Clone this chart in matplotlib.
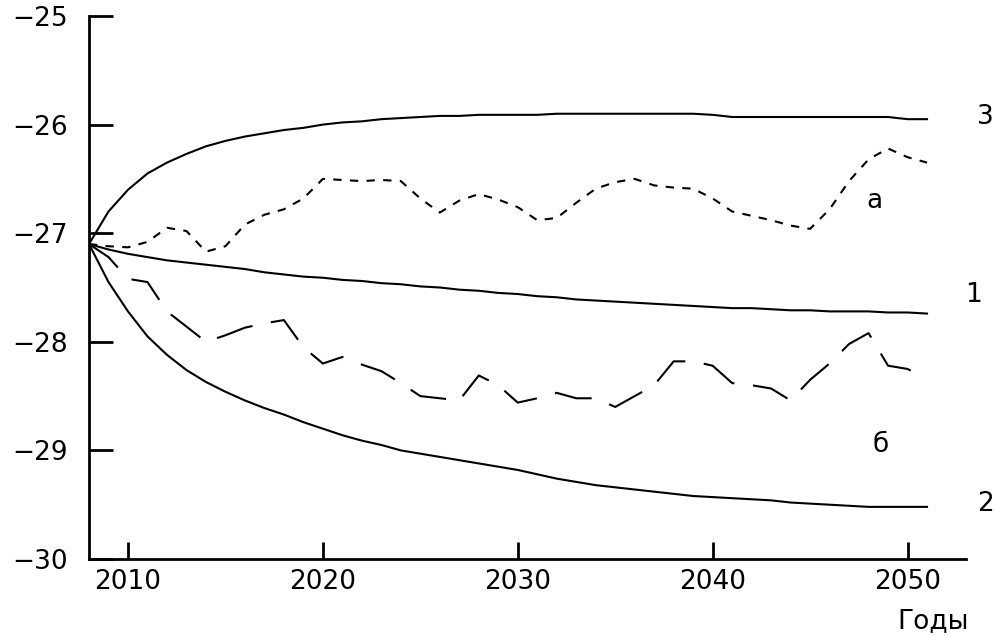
import numpy as np
import matplotlib
matplotlib.use("Agg")
import matplotlib.pyplot as plt

years = np.arange(2008, 2052)

# curve 3 (upper solid)
curve_3 = [-27.10, -26.80, -26.60, -26.45, -26.35, -26.27, -26.20, -26.15, -26.11, -26.08,
           -26.05, -26.03, -26.00, -25.98, -25.97, -25.95, -25.94, -25.93, -25.92, -25.92,
           -25.91, -25.91, -25.91, -25.91, -25.90, -25.90, -25.90, -25.90, -25.90, -25.90,
           -25.90, -25.90, -25.91, -25.93, -25.93, -25.93, -25.93, -25.93, -25.93, -25.93,
           -25.93, -25.93, -25.95, -25.95]

# curve 1 (middle solid)
curve_1 = [-27.10, -27.15, -27.19, -27.22, -27.25, -27.27, -27.29, -27.31, -27.33, -27.36,
           -27.38, -27.40, -27.41, -27.43, -27.44, -27.46, -27.47, -27.49, -27.50, -27.52,
           -27.53, -27.55, -27.56, -27.58, -27.59, -27.61, -27.62, -27.63, -27.64, -27.65,
           -27.66, -27.67, -27.68, -27.69, -27.69, -27.70, -27.71, -27.71, -27.72, -27.72,
           -27.72, -27.73, -27.73, -27.74]

# curve 2 (lower solid)
curve_2 = [-27.10, -27.45, -27.72, -27.95, -28.12, -28.26, -28.37, -28.46, -28.54, -28.61,
           -28.67, -28.74, -28.80, -28.86, -28.91, -28.95, -29.00, -29.03, -29.06, -29.09,
           -29.12, -29.15, -29.18, -29.22, -29.26, -29.29, -29.32, -29.34, -29.36, -29.38,
           -29.40, -29.42, -29.43, -29.44, -29.45, -29.46, -29.48, -29.49, -29.50, -29.51,
           -29.52, -29.52, -29.52, -29.52]

# series "а" (short dashes)
series_a = [-27.10, -27.12, -27.13, -27.08, -26.95, -26.98, -27.17, -27.12, -26.92, -26.83,
            -26.78, -26.68, -26.50, -26.51, -26.52, -26.51, -26.52, -26.68, -26.81, -26.70,
            -26.64, -26.69, -26.76, -26.88, -26.86, -26.72, -26.59, -26.53, -26.50, -26.56,
            -26.58, -26.59, -26.68, -26.80, -26.84, -26.88, -26.93, -26.96, -26.78, -26.52,
            -26.32, -26.22, -26.30, -26.35]

# series "б" (long dashes)
series_b = [-27.10, -27.22, -27.42, -27.45, -27.72, -27.86, -28.00, -27.94, -27.87, -27.83,
            -27.80, -28.05, -28.20, -28.14, -28.21, -28.27, -28.38, -28.50, -28.52, -28.54,
            -28.31, -28.40, -28.56, -28.52, -28.47, -28.52, -28.52, -28.60, -28.50, -28.40,
            -28.18, -28.18, -28.22, -28.38, -28.40, -28.43, -28.54, -28.35, -28.20, -28.02,
            -27.92, -28.22, -28.25, -28.34]

y_ticks = [-30, -29, -28, -27, -26, -25]
x_ticks = [2010, 2020, 2030, 2040, 2050]

fig = plt.figure(figsize=(9.96, 6.35), dpi=100)
ax = fig.add_axes([89 / 996, 76 / 635, 877 / 996, 543 / 635])

lw = 1.5
ax.plot(years, curve_3, color="black", lw=lw)
ax.plot(years, curve_1, color="black", lw=lw)
ax.plot(years, curve_2, color="black", lw=lw)
ax.plot(years, series_a, color="black", lw=lw, dashes=(4, 4))
ax.plot(years, series_b, color="black", lw=lw, dashes=(18, 9))

ax.set_xlim(2008, 2053)
ax.set_ylim(-30, -25)
ax.set_xticks(x_ticks)
ax.set_yticks(y_ticks)

for side in ["top", "right"]:
    ax.spines[side].set_visible(False)
for side in ["left", "bottom"]:
    ax.spines[side].set_linewidth(2)

fs = 19
ax.tick_params(axis="y", direction="in", length=17, width=2, pad=15, labelsize=fs)
ax.tick_params(axis="x", direction="in", length=12, width=2, pad=7, labelsize=fs)

# curve labels at the right-hand end
txt = dict(fontsize=fs, color="black", clip_on=False, va="center")
ax.text(2054.0, -25.93, "3", ha="center", **txt)
ax.text(2048.3, -26.70, "а", ha="center", **txt)
ax.text(2053.4, -27.57, "1", ha="center", **txt)
ax.text(2048.6, -28.95, "б", ha="center", **txt)
ax.text(2054.0, -29.49, "2", ha="center", **txt)
ax.text(2051.3, -30.57, "Годы", ha="center", **txt)

fig.savefig("out.png", dpi=100)
